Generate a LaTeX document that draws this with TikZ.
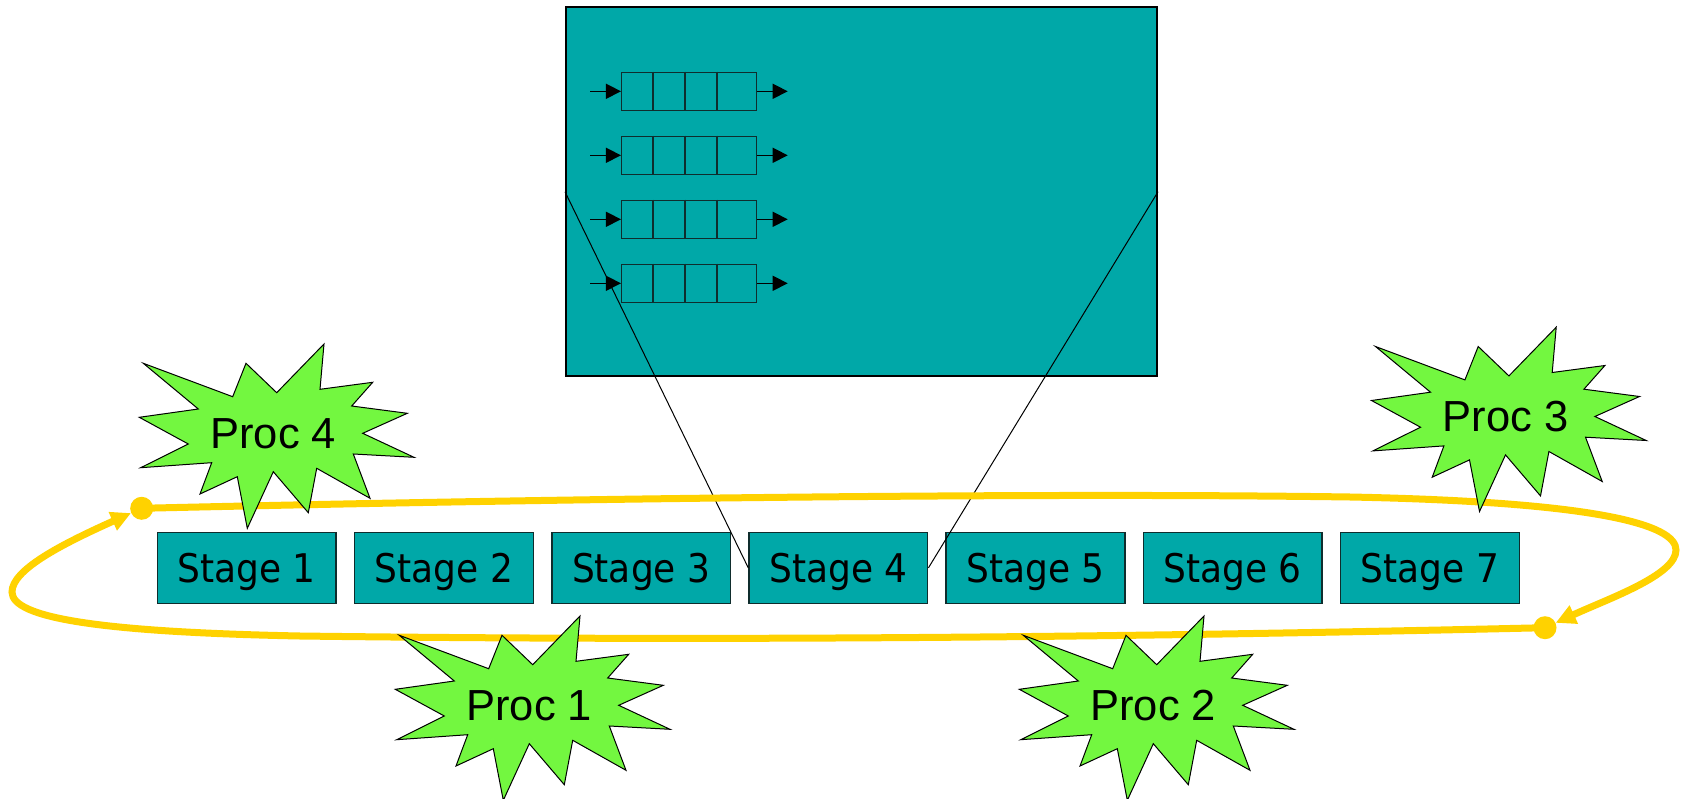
\documentclass[tikz,border=0pt]{standalone}
\usepackage{fontspec}
\setmainfont{Liberation Sans}
\newfontfamily\stagefont[FakeStretch=0.91]{DejaVu Sans}
\usetikzlibrary{arrows.meta}

\definecolor{boxteal}{RGB}{0,168,168}
\definecolor{loopyellow}{RGB}{255,210,0}
\definecolor{burstgreen}{RGB}{115,247,64}
\definecolor{qedge}{RGB}{15,45,45}

% outline of the explosion shape, relative to its label centre
\def\burstpath{(-130,-70) -- (-40.6,-36.6) -- (-27.3,-70) -- (3.4,-40.6)
  -- (50.7,-89.3) -- (46.7,-44) -- (99.4,-51) -- (78.4,-27.3) -- (134,-20)
  -- (89.4,0) -- (140.7,24) -- (80,20.7) -- (96.7,65) -- (43.4,35)
  -- (35,79.4) -- (0,38.4) -- (-26,95) -- (-36,43.4) -- (-73.3,60.7)
  -- (-61.6,29.4) -- (-132.6,34.4) -- (-85,10.7) -- (-134,-16)
  -- (-75,-24.3) -- cycle}

\tikzset{
  panelbox/.style={draw=black, line width=2pt, fill=boxteal, rectangle,
    minimum width=591pt, minimum height=368.5pt, inner sep=0pt},
  queuebox/.style={draw=qedge, line width=1.5pt, rectangle,
    minimum width=135pt, minimum height=38pt, inner sep=0pt},
  qline/.style={draw=qedge, line width=1.5pt},
  qarrow/.style={draw=black, line width=1.5pt, -{Triangle[length=15pt,width=15pt]}},
  zoomline/.style={draw=black, line width=1pt},
  stagebox/.style={draw=qedge, line width=1.5pt, fill=boxteal, rectangle,
    minimum width=178.7pt, minimum height=71pt, inner sep=0pt, text depth=0pt,
    font=\stagefont\fontsize{39.5}{45}\selectfont},
  loopline/.style={draw=loopyellow, line width=7pt,
    -{Triangle[length=20pt,width=19pt]}},
  loopdot/.style={circle, fill=loopyellow, minimum size=23pt, inner sep=0pt},
  burst/.style={draw=black, line width=1pt, fill=burstgreen, line join=miter},
  burstlabel/.style={inner sep=0pt, font=\fontsize{43.5}{50}\selectfont},
}

\begin{document}
\begin{tikzpicture}[x=1pt, y=-1pt]
\useasboundingbox (0,0) rectangle (1685,799);

% enlarged view of one stage with its queues
\node[panelbox] (panel) at (861.5,191.75) {};
\foreach \i in {1,...,4} {
  \node[queuebox] (q\i) at (689.2,{91.3+64*(\i-1)}) {};
  \foreach \d in {32,64,96}
    \draw[qline] ([xshift=\d pt]q\i.north west) -- ([xshift=\d pt]q\i.south west);
  \coordinate (qin\i) at (590,{91.3+64*(\i-1)});
  \coordinate (qout\i) at (787.7,{91.3+64*(\i-1)});
  \draw[qarrow] (qin\i) -- (q\i.west);
  \draw[qarrow] (q\i.east) -- (qout\i);
}

% pipeline stages
\foreach \i in {1,...,7}
  \node[stagebox] (st\i) at ({246.75+197.2*(\i-1)},567.8) {Stage \i};

% lines from the panel down to stage 4
\draw[zoomline] (panel.west) -- (st4.west);
\draw[zoomline] (panel.east) -- (st4.east);

% circulating loop
\node[loopdot] (dotL) at (141.7,508.3) {};
\node[loopdot] (dotR) at (1545,627.7) {};
\draw[loopline] (dotL.center) .. controls (500,500) and (1000,492) .. (1350,497)
  .. controls (1600,502) and (1676,525) .. (1676,550)
  .. controls (1676,575) and (1610,598) .. (dotR);
\draw[loopline] (dotR.center) .. controls (1100,638) and (700,641) .. (300,636)
  .. controls (100,632) and (12,618) .. (12,592)
  .. controls (12,570) and (60,545) .. (dotL);

% processors
\foreach \name/\cx/\cy/\lab in {proc4/273.3/433.3/Proc 4, proc1/529.3/705.3/Proc 1,
    proc2/1153.3/705.3/Proc 2, proc3/1505.5/416.5/Proc 3} {
  \draw[burst, shift={(\cx,\cy)}] \burstpath;
  \node[burstlabel] (\name) at (\cx,\cy) {\lab};
}
\end{tikzpicture}
\end{document}
